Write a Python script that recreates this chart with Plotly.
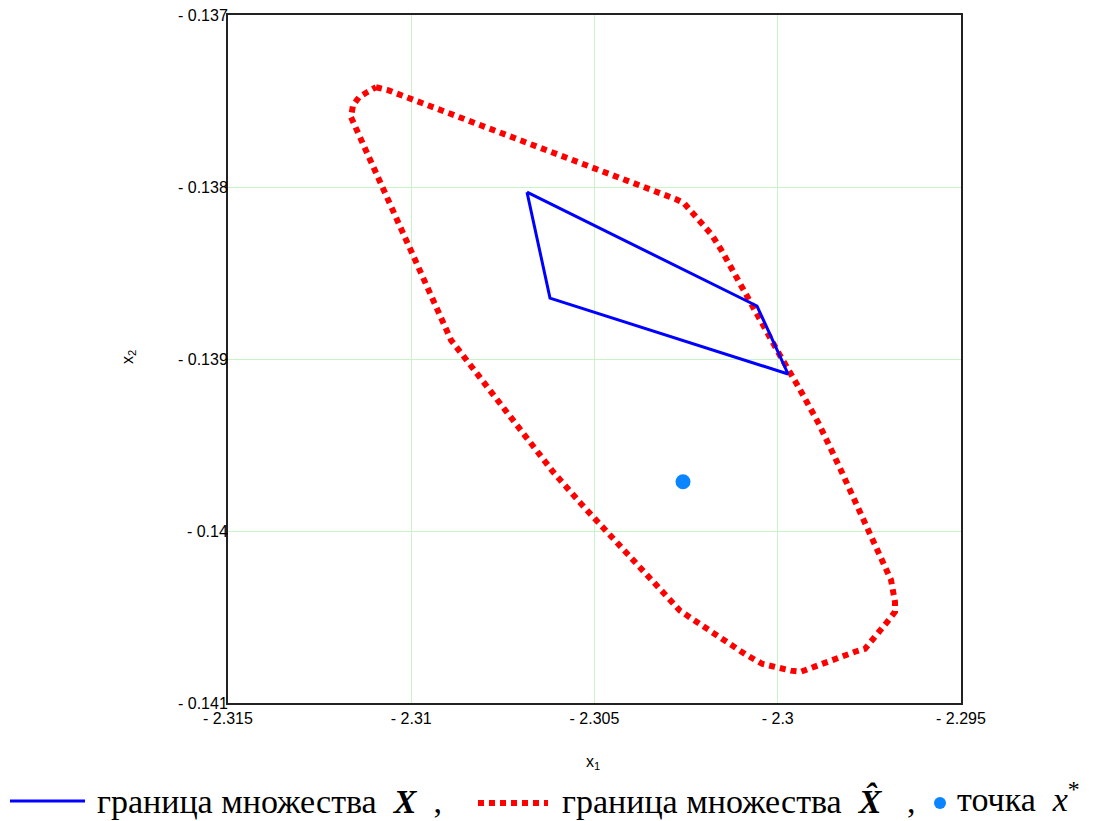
import plotly.graph_objects as go

# Boundary of set X-hat (red dotted)
xhat_x = [-2.310962, -2.310634, -2.302776, -2.302558, -2.302394, -2.302094, -2.301794,
          -2.301521, -2.301057, -2.300512, -2.299993, -2.299448, -2.298875, -2.298329,
          -2.297783, -2.297183, -2.296910, -2.296801, -2.296801, -2.296965, -2.297292,
          -2.297620, -2.297892, -2.298629, -2.299366, -2.299639, -2.300157, -2.300430,
          -2.300866, -2.301467, -2.302285, -2.302667, -2.302967, -2.303295, -2.303759,
          -2.304550, -2.305341, -2.306132, -2.307033, -2.307824, -2.308124, -2.308615,
          -2.308915, -2.309488, -2.310198, -2.310825, -2.311344, -2.311480, -2.311644,
          -2.311589, -2.311426, -2.311207, -2.310962]
xhat_y = [-0.137420, -0.137437, -0.138071, -0.138094, -0.138134, -0.138210, -0.138280,
          -0.138373, -0.138553, -0.138756, -0.138959, -0.139157, -0.139378, -0.139622,
          -0.139871, -0.140150, -0.140284, -0.140412, -0.140470, -0.140516, -0.140597,
          -0.140685, -0.140702, -0.140760, -0.140818, -0.140812, -0.140789, -0.140772,
          -0.140719, -0.140632, -0.140522, -0.140464, -0.140394, -0.140319, -0.140214,
          -0.140028, -0.139848, -0.139656, -0.139407, -0.139198, -0.139116, -0.138983,
          -0.138890, -0.138617, -0.138274, -0.137972, -0.137722, -0.137658, -0.137594,
          -0.137525, -0.137478, -0.137449, -0.137420]

# Boundary of set X (blue)
setx_x = [-2.306842, -2.300566, -2.299720, -2.306214, -2.306842]
setx_y = [-0.138030, -0.138692, -0.139087, -0.138646, -0.138030]

# Point x*
pt_x = [-2.302585]
pt_y = [-0.139714]

x_ticks = [-2.315, -2.31, -2.305, -2.3, -2.295]
x_ticktext = ["- 2.315", "- 2.31", "- 2.305", "- 2.3", "- 2.295"]
y_ticks = [-0.137, -0.138, -0.139, -0.14, -0.141]
y_ticktext = ["- 0.137", "- 0.138", "- 0.139", "- 0.14", "- 0.141"]

fig = go.Figure()
fig.add_trace(go.Scatter(x=xhat_x, y=xhat_y, mode="lines",
                         line=dict(color="#ff0000", width=6, dash="6px,5px"),
                         showlegend=False))
fig.add_trace(go.Scatter(x=setx_x, y=setx_y, mode="lines",
                         line=dict(color="#0000ff", width=3),
                         showlegend=False))
fig.add_trace(go.Scatter(x=pt_x, y=pt_y, mode="markers",
                         marker=dict(color="#0a84ff", size=15),
                         showlegend=False))

W, H = 1094, 821
L, R, T, B = 228, 961, 15, 703


def px(xp):
    return (xp - L) / (R - L)


def py(yp):
    return (B - yp) / (B - T)


tick_font = dict(family="Liberation Sans, Arial", size=16, color="#000")
fig.update_layout(
    width=W, height=H, autosize=False,
    margin=dict(l=L, r=W - R, t=T, b=H - B),
    plot_bgcolor="white", paper_bgcolor="white",
    xaxis=dict(range=[-2.315, -2.295], tickvals=x_ticks, ticktext=x_ticktext,
               showgrid=True, gridcolor="#c8f2c8", gridwidth=1, zeroline=False,
               showline=True, linecolor="#222", linewidth=2, mirror=True,
               ticks="", tickfont=tick_font, automargin=False),
    yaxis=dict(range=[-0.141, -0.137], tickvals=y_ticks, ticktext=y_ticktext,
               showgrid=True, gridcolor="#c8f2c8", gridwidth=1, zeroline=False,
               showline=True, linecolor="#222", linewidth=2, mirror=True,
               ticks="", tickfont=tick_font, automargin=False,
               ticklabelstandoff=-5),
    font=dict(family="Liberation Sans, Arial", color="#000"),
)

# axis titles
fig.add_annotation(x=px(593), y=py(762), xref="paper", yref="paper",
                   xanchor="center", yanchor="middle",
                   text="x<sub>1</sub>", showarrow=False,
                   font=dict(family="Liberation Sans, Arial", size=16))
fig.add_annotation(x=px(128), y=py(357), xref="paper", yref="paper",
                   xanchor="center", yanchor="middle",
                   text="x<sub>2</sub>", showarrow=False, textangle=-90,
                   font=dict(family="Liberation Sans, Arial", size=16))

# legend (drawn manually below plot)
ly = 801
fig.add_shape(type="line", xref="paper", yref="paper",
              x0=px(10), x1=px(85), y0=py(ly), y1=py(ly),
              line=dict(color="#0000ff", width=3))
fig.add_shape(type="line", xref="paper", yref="paper",
              x0=px(478), x1=px(548), y0=py(ly + 2), y1=py(ly + 2),
              line=dict(color="#ff0000", width=6, dash="6px,5px"))
fig.add_shape(type="circle", xref="paper", yref="paper",
              x0=px(934), x1=px(946), y0=py(ly + 8), y1=py(ly - 4),
              fillcolor="#0a84ff", line=dict(width=0))
serif = dict(family="Liberation Serif, Times New Roman", size=34, color="#000")
nb = "\u00a0"
fig.add_annotation(x=px(95), y=py(ly), xref="paper", yref="paper",
                   xanchor="left", yanchor="middle", showarrow=False,
                   text="граница множества" + nb + " <b><i>X</i></b>" + nb + " ,",
                   font=serif)
fig.add_annotation(x=px(560), y=py(ly), xref="paper", yref="paper",
                   xanchor="left", yanchor="middle", showarrow=False,
                   text="граница множества" + nb + " <b><i>X\u0302</i></b>" + nb * 2 + " ,",
                   font=serif)
fig.add_annotation(x=px(955), y=py(ly - 4), xref="paper", yref="paper",
                   xanchor="left", yanchor="middle", showarrow=False,
                   text="точка" + nb + " <i>x</i><sup>*</sup>", font=serif)

fig.write_html("out.html", config={"displayModeBar": False},
               post_script="document.body.style.margin='0px';")
